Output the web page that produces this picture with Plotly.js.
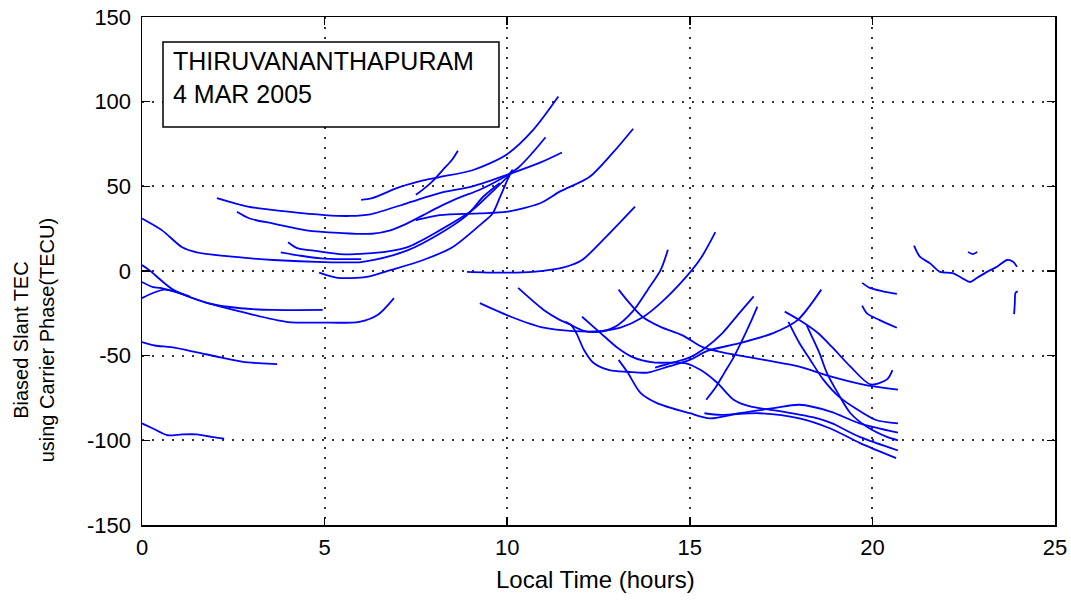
<!DOCTYPE html>
<html>
<head>
<meta charset="utf-8">
<script src="https://cdn.plot.ly/plotly-3.0.1.min.js"></script>
<style>
  html, body { margin: 0; padding: 0; background: #ffffff; }
  #chart { width: 1071px; height: 603px; }
</style>
</head>
<body>
<div id="chart"></div>
<script>
// Biased slant TEC (carrier phase) per satellite pass, Thiruvananthapuram, 4 Mar 2005.
// Each pass: local time (hours) and TEC (TECU).

// --- pre-dawn / morning passes ---
const tM1 = [6.0, 6.3, 7.05, 7.7, 8.15, 9.05, 10.0, 10.7, 11.4];
const vM1 = [42, 43, 49.5, 53.5, 55.5, 59.5, 69, 83, 103];
const tM2 = [7.5, 7.8, 8.0, 8.25, 8.5, 8.65];
const vM2 = [45, 50, 54, 60, 66, 71];
const tM3 = [2.05, 2.9, 4.0, 5.0, 5.7, 6.25, 7.25, 8.15, 9.05, 10.15, 10.9, 11.5];
const vM3 = [43, 38, 35, 33, 32.5, 33.5, 40, 46, 50, 58, 64, 70];
const tM4 = [2.6, 2.95, 3.6, 4.5, 5.4, 6.3, 6.8, 7.25, 7.7, 8.15, 8.65, 9.25, 9.8, 10.3, 10.7, 11.05];
const vM4 = [35, 31, 28, 24, 22.5, 22, 24, 28, 33, 38, 43, 48, 54, 61, 70, 79];
const tM5 = [4.0, 4.25, 4.7, 5.4, 6.3, 7.25, 8.15, 9.05, 9.55, 10.0, 10.15];
const vM5 = [17, 13.5, 12, 10, 10.5, 14, 24, 36, 46, 55.5, 60];
const tM6 = [0, 0.55, 1.1, 1.5, 2.7, 3.6, 5.0, 6.0, 6.35, 7.25, 8.15, 8.9, 9.35, 9.8];
const vM6 = [31, 24, 14, 11, 8, 6.5, 5.3, 5.3, 6.5, 12, 22, 33, 44, 52];
const tM7 = [3.8, 4.35, 4.9, 5.5, 6.0];
const vM7 = [11, 9, 7.5, 7, 7];
const tM8 = [4.85, 5.35, 6.15, 6.8, 7.7, 8.5, 9.3, 9.6, 9.8, 10.0, 10.1];
const vM8 = [-1, -4, -3.5, 0.5, 6.5, 14, 28, 34, 43.5, 53.5, 58];
const tM9 = [7.5, 8.15, 9.25, 10.0, 10.9, 11.45, 12.25, 12.9, 13.45];
const vM9 = [30, 33, 34, 35, 40, 47, 55.5, 70, 84];
const tM10 = [8.9, 9.8, 10.7, 11.6, 12.05, 12.7, 13.5];
const vM10 = [-0.5, -1, -0.5, 2.5, 6.5, 20, 38];

// --- passes starting at midnight ---
const tG1 = [0, 0.2, 0.85, 1.8, 2.7, 3.6, 4.95];
const vG1 = [3.5, 0.5, -11, -19, -22, -23, -23];
const tG2 = [0, 0.3, 0.5, 1.0, 1.8, 2.7, 3.95, 4.95, 5.95, 6.45, 6.9];
const vG2 = [-6.5, -9.5, -10, -13, -19, -24, -30, -30.5, -30, -26, -16];
const tG3 = [0, 0.3, 0.6, 0.9, 1.3];
const vG3 = [-16, -13, -11, -12, -15];
const tG4 = [0, 0.35, 0.8, 1.5, 2.15, 2.9, 3.3, 3.7];
const vG4 = [-42, -44, -45, -48, -51, -54, -54.5, -55];
const tG5 = [0, 0.3, 0.7, 1.1, 1.5, 1.9, 2.25];
const vG5 = [-90, -93, -97, -96.5, -96.5, -98, -99];

// --- afternoon / evening passes ---
const tA1 = [9.25, 10.1, 11.0, 11.8, 12.55, 13.1, 13.7, 14.2, 14.9, 15.3, 15.7];
const vA1 = [-19, -27, -33.5, -35.5, -35.5, -33.5, -27.5, -19, -3.5, 7.5, 23];
const tA2 = [10.3, 11.0, 11.45, 11.75, 11.9, 12.1, 12.35, 12.8, 13.3, 13.85, 14.4, 15.0, 15.5, 16.4, 17.3, 17.95, 18.6];
const vA2 = [-10, -23, -29, -32, -37, -46.5, -54, -58.5, -59.5, -60, -56.5, -52.5, -47, -42.5, -36.5, -29, -11];
const tA3 = [11.6, 12.05, 12.5, 12.95, 13.45, 13.85, 14.2, 14.4];
const vA3 = [-30, -35, -36, -33, -23.5, -11, 0.5, 12.5];
const tA4 = [13.05, 13.35, 13.7, 14.2, 14.8, 15.35, 15.9, 16.65, 17.55, 18.0, 18.9, 19.85, 20.7];
const vA4 = [-11, -19, -27, -33, -38, -45, -48, -51, -54.5, -56.5, -62.5, -67.5, -70];
const tA5 = [12.05, 12.55, 13.0, 13.45, 14.0, 14.9, 15.3, 15.75, 16.2, 16.65, 17.55, 18.5, 18.9, 19.65, 20.7];
const vA5 = [-27, -36.5, -45, -51, -54, -54.5, -58.5, -66, -76, -80, -83, -87, -90, -98, -106];
const tA6 = [13.05, 13.3, 13.65, 14.1, 15.0, 15.55, 16.35, 17.3, 18.0, 18.85, 19.65, 20.7];
const vA6 = [-52.5, -60, -72, -78, -84, -87, -84, -81, -79, -83, -90, -95.5];
const tA7 = [15.4, 15.85, 16.9, 18.0, 18.85, 19.65, 20.65];
const vA7 = [-84, -85, -84, -87, -93, -101.5, -110.5];
const tA8 = [14.05, 14.55, 15.0, 15.45, 15.9, 16.35, 16.75];
const vA8 = [-57, -54, -51, -45, -36.5, -25, -15];
const tA9 = [15.45, 15.7, 15.95, 16.2, 16.4, 16.65, 16.85];
const vA9 = [-76, -69, -60, -51, -42.5, -31, -21];
const tA10 = [17.6, 18.0, 18.5, 18.9, 19.4, 19.95, 20.4, 20.55];
const vA10 = [-24, -29, -36.5, -45, -56.5, -67, -64, -58.5];
const tA11 = [17.7, 18.0, 18.3, 18.65, 19.1, 19.6, 20.1, 20.7];
const vA11 = [-30, -42.5, -52.5, -64, -74.5, -82, -88, -90];
const tA12 = [18.2, 18.35, 18.55, 18.75, 19.05, 19.4, 19.85, 20.4, 20.7];
const vA12 = [-32, -39, -48.5, -60, -72, -84, -92, -98, -100];
const tA13 = [19.72, 19.93, 20.29, 20.67];
const vA13 = [-7, -10, -12, -13.5];
const tA14 = [19.72, 19.85, 20.2, 20.67];
const vA14 = [-20.5, -25, -29, -33.5];

// --- night passes ---
const tN1 = [21.14, 21.3, 21.58, 21.85, 22.2, 22.48, 22.67, 22.87, 23.14, 23.41, 23.69, 23.85, 23.96];
const vN1 = [15, 8.5, 4.5, -0.5, -1.2, -4.5, -6.5, -4, -0.5, 2.5, 6.5, 5.5, 2.5];
const tN2 = [22.62, 22.75, 22.87];
const vN2 = [11.2, 10, 11.2];
const tN3 = [23.98, 23.92, 23.9, 23.88];
const vN3 = [-12, -12.8, -19, -25.5];

const passes = [
  [tM1, vM1], [tM2, vM2], [tM3, vM3], [tM4, vM4], [tM5, vM5], [tM6, vM6],
  [tM7, vM7], [tM8, vM8], [tM9, vM9], [tM10, vM10],
  [tG1, vG1], [tG2, vG2], [tG3, vG3], [tG4, vG4], [tG5, vG5],
  [tA1, vA1], [tA2, vA2], [tA3, vA3], [tA4, vA4], [tA5, vA5], [tA6, vA6],
  [tA7, vA7], [tA8, vA8], [tA9, vA9], [tA10, vA10], [tA11, vA11], [tA12, vA12],
  [tA13, vA13], [tA14, vA14],
  [tN1, vN1], [tN2, vN2], [tN3, vN3]
];

const xTicks = [0, 5, 10, 15, 20, 25];
const yTicks = [-150, -100, -50, 0, 50, 100, 150];

const traces = passes.map(([t, v]) => ({
  type: 'scatter',
  mode: 'lines',
  x: t,
  y: v,
  line: { color: '#0000ff', width: 1.8, shape: 'spline', smoothing: 0.8 },
  hoverinfo: 'skip',
  showlegend: false
}));

const font = { family: 'Liberation Sans, Arial, sans-serif', color: '#000000' };

const axisBase = {
  showline: true,
  linecolor: '#000000',
  linewidth: 1.5,
  mirror: 'ticks',
  ticks: 'inside',
  ticklen: 8,
  tickwidth: 1.5,
  tickcolor: '#000000',
  showgrid: true,
  gridcolor: '#333333',
  gridwidth: 2,
  griddash: '2px,8px',
  zeroline: false,
  tickfont: Object.assign({ size: 22 }, font)
};

const layout = {
  width: 1071,
  height: 603,
  margin: { l: 142, r: 16, t: 17, b: 78 },
  paper_bgcolor: '#ffffff',
  plot_bgcolor: '#ffffff',
  font: font,
  xaxis: Object.assign({}, axisBase, {
    range: [0, 25],
    tickvals: xTicks,
    ticktext: xTicks.map(String),
    ticklabelstandoff: 2
  }),
  yaxis: Object.assign({}, axisBase, {
    range: [-150, 150],
    tickvals: yTicks,
    ticktext: yTicks.map(String),
    ticklabelstandoff: 5
  }),
  shapes: [{
    type: 'rect', xref: 'x', yref: 'y',
    x0: 0.575, x1: 9.775, y0: 85, y1: 135.2,
    line: { color: '#000000', width: 1.5 },
    fillcolor: '#ffffff',
    layer: 'above'
  }],
  annotations: [
    {
      xref: 'x', yref: 'y', x: 0.8, y: 114.5,
      xanchor: 'left', yanchor: 'middle', align: 'left',
      showarrow: false,
      text: 'THIRUVANANTHAPURAM<br>4 MAR 2005',
      font: Object.assign({ size: 25 }, font)
    },
    {
      // x-axis title
      xref: 'paper', yref: 'paper', x: 0.497, y: -0.108,
      xanchor: 'center', yanchor: 'middle',
      showarrow: false,
      text: 'Local Time (hours)',
      font: Object.assign({ size: 24 }, font)
    },
    {
      // y-axis title, two lines
      xref: 'paper', yref: 'paper', x: -0.118, y: 0.364,
      xanchor: 'center', yanchor: 'middle',
      textangle: -90,
      showarrow: false,
      text: 'Biased Slant TEC<br>using Carrier Phase(TECU)',
      font: Object.assign({ size: 20 }, font)
    }
  ]
};

Plotly.newPlot('chart', traces, layout, { staticPlot: true, displayModeBar: false });
</script>
</body>
</html>
